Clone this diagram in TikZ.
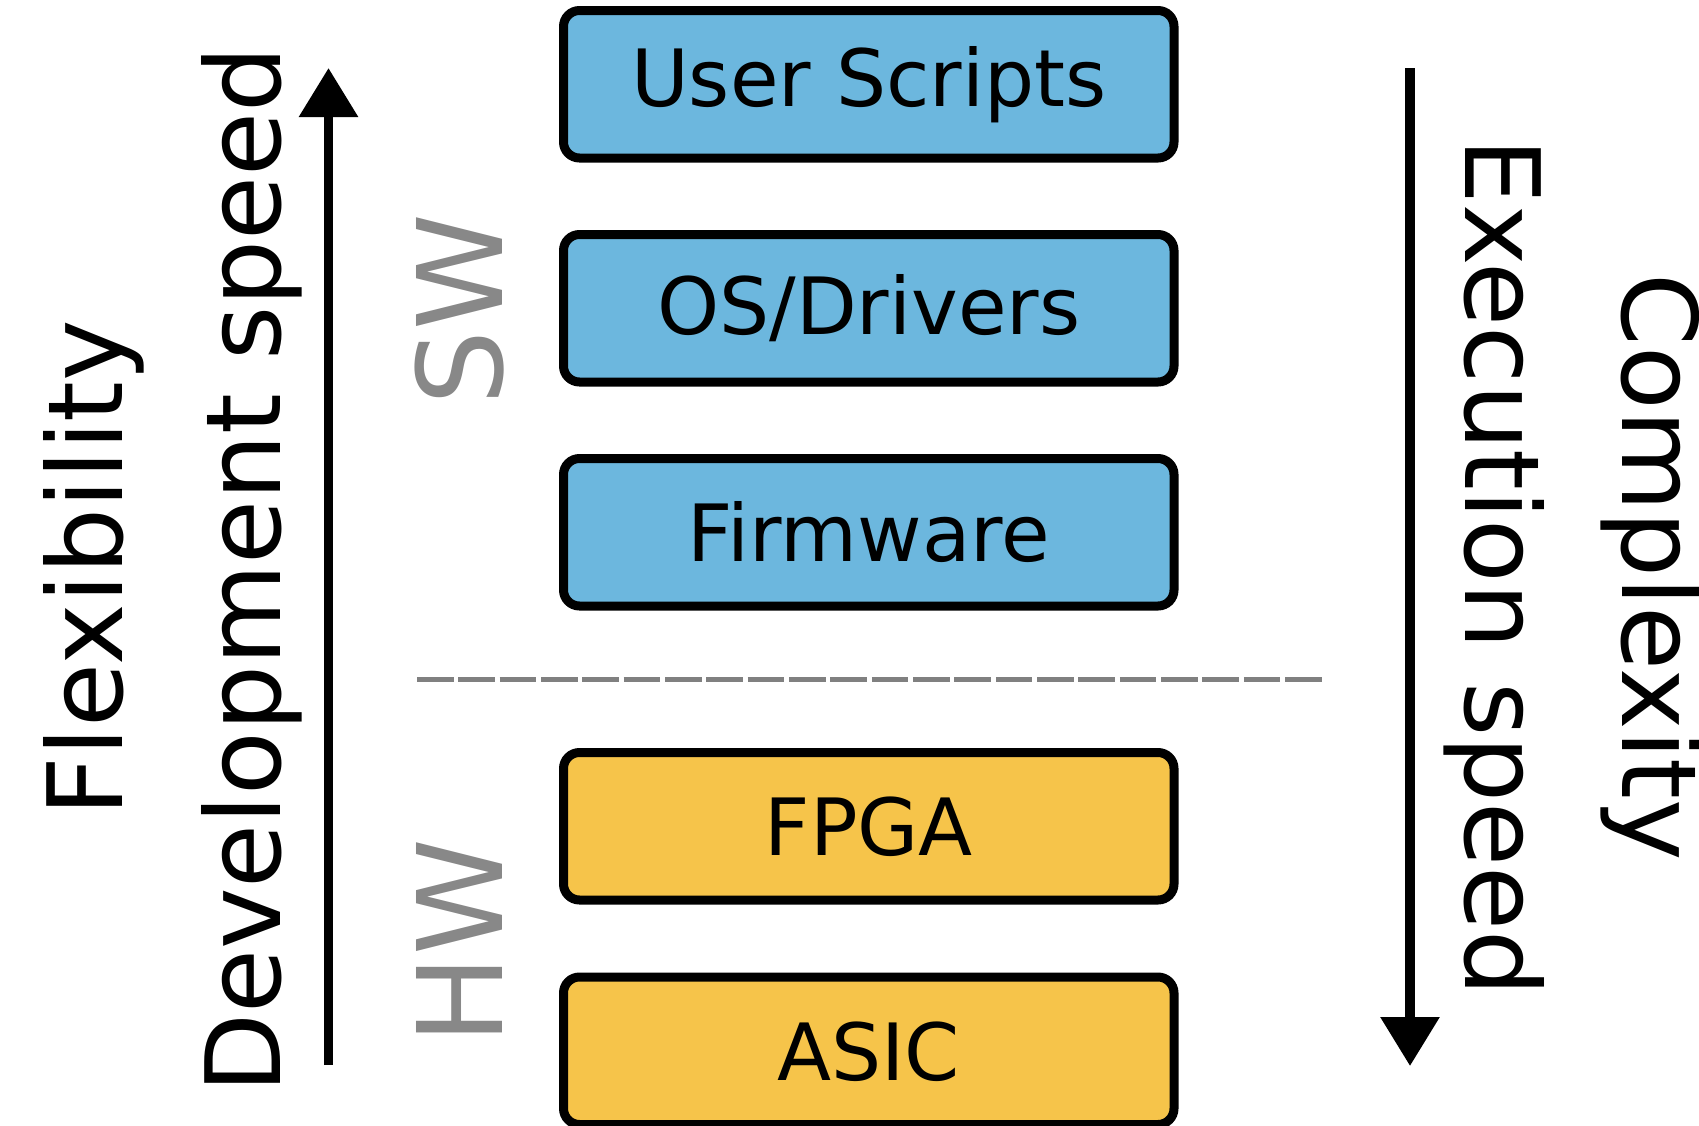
\documentclass[tikz,border=0pt]{standalone}
\usepackage{fontspec}
\setmainfont{DejaVu Sans}
\usetikzlibrary{arrows.meta}
\definecolor{swblue}{RGB}{108,183,222}
\definecolor{hwyellow}{RGB}{246,196,74}
\definecolor{layergray}{RGB}{136,136,136}
\definecolor{dashgray}{RGB}{128,128,128}
\tikzset{
  layerbox/.style={draw=black, line width=9pt, rounded corners=16pt,
    minimum width=610.5pt, minimum height=147.5pt, inner sep=0pt,
    text height=59pt, text depth=0pt,
    font=\fontsize{79}{90}\selectfont},
  swbox/.style={layerbox, fill=swblue},
  hwbox/.style={layerbox, fill=hwyellow},
  biglabel/.style={inner sep=0pt, anchor=base, font=\fontsize{104}{120}\selectfont},
  grouplabel/.style={inner sep=0pt, anchor=base, text=layergray, rotate=90,
    font=\fontsize{118}{130}\selectfont},
  bigarrow/.style={line width=9.5pt, -{Triangle[length=49pt,width=57pt]}},
  divider/.style={draw=dashgray, line width=4.3pt, dash pattern=on 36.65pt off 4.69pt}
}
\begin{document}
\begin{tikzpicture}[x=1pt,y=-1pt]
\useasboundingbox (0,0) rectangle (1699,1125);
% boxes
\node[swbox, text height=44pt] (us) at (868.75,84.25) {User Scripts};
\node[swbox, text height=52pt] (os) at (868.75,308.25) {OS/Drivers};
\node[swbox] (fw) at (868.75,532.25) {Firmware};
\node[hwbox] (fpga) at (868.75,826.25) {FPGA};
\node[hwbox] (asic) at (868.75,1050.75) {ASIC};
% divider
\coordinate (dl) at (417,679.5);
\coordinate (dr) at (1322,679.5);
\draw[divider] (dl) -- (dr);
% arrows
\coordinate (upbot) at (328.5,1065);
\coordinate (uptop) at (328.5,68);
\coordinate (dntop) at (1410,68);
\coordinate (dnbot) at (1410,1066);
\draw[bigarrow] (upbot) -- (uptop);
\draw[bigarrow] (dntop) -- (dnbot);
% labels
\node[biglabel, rotate=90] (flex) at (122,568) {Flexibility};
\node[biglabel, rotate=90] (dev) at (280,570) {Development speed};
\node[grouplabel] (sw) at (502,310) {SW};
\node[grouplabel] (hw) at (502,942) {HW};
\node[biglabel, rotate=-90] (exec) at (1465,567.5) {Execution speed};
\node[biglabel, rotate=-90] (cplx) at (1622,567.5) {Complexity};
\end{tikzpicture}
\end{document}
